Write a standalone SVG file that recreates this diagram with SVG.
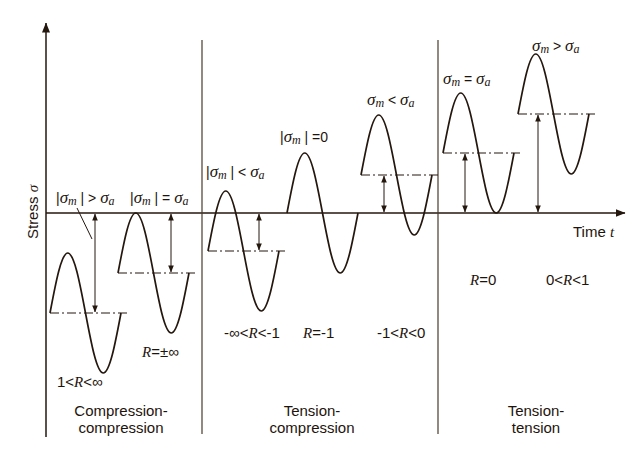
<svg xmlns="http://www.w3.org/2000/svg" xmlns:xlink="http://www.w3.org/1999/xlink" width="643" height="460" viewBox="0 0 643 460">
<style>
.ax{stroke:#24170e;stroke-width:1.5;fill:none}
.div{stroke:#4a3a2c;stroke-width:1.2;fill:none}
.wave{stroke:#24170e;stroke-width:1.7;fill:none}
.mean{stroke:#24170e;stroke-width:1.2;stroke-dasharray:9 3 2 3;fill:none}
.dim{stroke:#24170e;stroke-width:1;fill:none;marker-start:url(#ah);marker-end:url(#ah)}
text{font-family:"Liberation Sans",Arial,sans-serif;font-size:15px;fill:#1e140c}
.s{font-family:"Liberation Serif","Times New Roman",serif;font-style:italic}
.g{font-family:"Liberation Serif","Times New Roman",serif;font-style:italic;font-size:17px}
.sub{font-family:"Liberation Serif","Times New Roman",serif;font-style:italic;font-size:12px}
.lab{font-size:14px}
.cat{text-anchor:middle}
</style>
<defs>
<marker id="ah" viewBox="0 0 8 8" refX="7.5" refY="4" markerWidth="7" markerHeight="7" markerUnits="userSpaceOnUse" orient="auto-start-reverse">
<path d="M0,0.8 L8,4 L0,7.2 Z" fill="#24170e"/>
</marker>
<marker id="axh" viewBox="0 0 10 10" refX="9.5" refY="5" markerWidth="10" markerHeight="10" markerUnits="userSpaceOnUse" orient="auto">
<path d="M0,1 L10,5 L0,9 Z" fill="#24170e"/>
</marker>
<path id="wave" d="M0,0 c5.79,-30.74 11.33,-60 17.75,-60 s11.96,29.26 17.75,60 s11.33,60 17.75,60 s11.96,-29.26 17.75,-60"/>
</defs>

<g id="axes">
<line class="ax" x1="46" y1="437" x2="46" y2="23" marker-end="url(#axh)"/>
<line class="ax" x1="46" y1="213" x2="625" y2="213" marker-end="url(#axh)"/>
<line class="div" x1="202" y1="40" x2="202" y2="434"/>
<line class="div" x1="438" y1="40" x2="438" y2="434"/>
<text transform="translate(38,212) rotate(-90)" text-anchor="middle" font-size="14">Stress <tspan class="s">σ</tspan></text>
<text x="573" y="237">Time <tspan class="s">t</tspan></text>
</g>

<g id="w1">
<use xlink:href="#wave" href="#wave" x="50" y="313" class="wave"/>
<line class="mean" x1="50" y1="313" x2="128" y2="313"/>
<text class="lab" x="56" y="203">|<tspan class="g">σ</tspan><tspan class="sub" dy="2">m</tspan><tspan dy="-2"> | &gt; </tspan><tspan class="g">σ</tspan><tspan class="sub" dy="2">a</tspan></text>
<text x="57" y="387">1&lt;<tspan class="s">R</tspan>&lt;∞</text>
</g>

<g id="w2">
<use xlink:href="#wave" href="#wave" x="118" y="273" class="wave"/>
<line class="mean" x1="118" y1="273" x2="196" y2="273"/>
<text class="lab" x="130" y="203">|<tspan class="g">σ</tspan><tspan class="sub" dy="2">m</tspan><tspan dy="-2"> | = </tspan><tspan class="g">σ</tspan><tspan class="sub" dy="2">a</tspan></text>
<text x="142" y="357"><tspan class="s">R</tspan>=±∞</text>
</g>

<g id="w3">
<use xlink:href="#wave" href="#wave" x="208" y="251" class="wave"/>
<line class="mean" x1="208" y1="251" x2="286" y2="251"/>
<text class="lab" x="206" y="177">|<tspan class="g">σ</tspan><tspan class="sub" dy="2">m</tspan><tspan dy="-2"> | &lt; </tspan><tspan class="g">σ</tspan><tspan class="sub" dy="2">a</tspan></text>
<text x="224" y="338">-∞&lt;<tspan class="s">R</tspan>&lt;-1</text>
</g>

<g id="w4">
<use xlink:href="#wave" href="#wave" x="287" y="213" class="wave"/>
<text class="lab" x="280" y="142">|<tspan class="g">σ</tspan><tspan class="sub" dy="2">m</tspan><tspan dy="-2"> | =0</tspan></text>
<text x="303" y="338"><tspan class="s">R</tspan>=-1</text>
</g>

<g id="w5">
<use xlink:href="#wave" href="#wave" x="361" y="175" class="wave"/>
<line class="mean" x1="361" y1="175" x2="438" y2="175"/>
<text class="lab" x="367" y="105"><tspan class="g">σ</tspan><tspan class="sub" dy="2">m</tspan><tspan dy="-2"> &lt; </tspan><tspan class="g">σ</tspan><tspan class="sub" dy="2">a</tspan></text>
<text x="377" y="338">-1&lt;<tspan class="s">R</tspan>&lt;0</text>
</g>

<g id="w6">
<use xlink:href="#wave" href="#wave" x="443" y="153" class="wave"/>
<line class="mean" x1="443" y1="153" x2="521" y2="153"/>
<text class="lab" x="443" y="84"><tspan class="g">σ</tspan><tspan class="sub" dy="2">m</tspan><tspan dy="-2"> = </tspan><tspan class="g">σ</tspan><tspan class="sub" dy="2">a</tspan></text>
<text x="470" y="285"><tspan class="s">R</tspan>=0</text>
</g>

<g id="w7">
<use xlink:href="#wave" href="#wave" x="518" y="114" class="wave"/>
<line class="mean" x1="518" y1="114" x2="597" y2="114"/>
<text class="lab" x="532" y="51"><tspan class="g">σ</tspan><tspan class="sub" dy="2">m</tspan><tspan dy="-2"> &gt; </tspan><tspan class="g">σ</tspan><tspan class="sub" dy="2">a</tspan></text>
<text x="546" y="285">0&lt;<tspan class="s">R</tspan>&lt;1</text>
</g>

<g id="categories">
<text class="cat" x="121" y="416">Compression-</text>
<text class="cat" x="121" y="433">compression</text>
<text class="cat" x="312" y="416">Tension-</text>
<text class="cat" x="312" y="433">compression</text>
<text class="cat" x="536" y="416">Tension-</text>
<text class="cat" x="536" y="433">tension</text>
</g>

<g id="connectors">
<line class="dim" x1="95" y1="214" x2="95" y2="312"/>
<line class="dim" x1="171" y1="214" x2="171" y2="272"/>
<line class="dim" x1="259" y1="214" x2="259" y2="250"/>
<line class="dim" x1="384" y1="176" x2="384" y2="212"/>
<line class="dim" x1="465" y1="154" x2="465" y2="212"/>
<line class="dim" x1="538" y1="115" x2="538" y2="212"/>
<line x1="77" y1="208" x2="92" y2="239" stroke="#24170e" stroke-width="1"/>
</g>
</svg>
